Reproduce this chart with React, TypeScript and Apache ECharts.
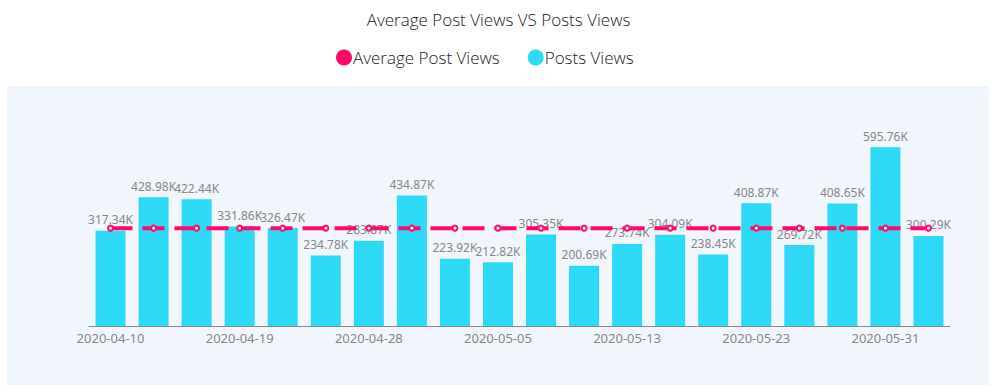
import React, { useEffect, useRef } from "react";
import * as echarts from "echarts";

const categories = [
  "2020-04-10", "2020-04-13", "2020-04-16", "2020-04-19", "2020-04-22",
  "2020-04-25", "2020-04-28", "2020-04-30", "2020-05-02", "2020-05-05",
  "2020-05-08", "2020-05-10", "2020-05-13", "2020-05-16", "2020-05-20",
  "2020-05-23", "2020-05-26", "2020-05-28", "2020-05-31", "2020-06-03",
];

const postsViews = [
  317340, 428980, 422440, 331860, 326470, 234780, 283870, 434870, 223920, 212820,
  305350, 200690, 273740, 304090, 238450, 408870, 269720, 408650, 595760, 300290,
];

const averageViews = postsViews.map(
  () => postsViews.reduce((a, b) => a + b, 0) / postsViews.length
);

const titleText = "Average Post Views VS Posts Views";
const legendNames = ["Average Post Views", "Posts Views"];

export default function App() {
  const ref = useRef<HTMLDivElement>(null);
  useEffect(() => {
    if (!ref.current) return;
    const chart = echarts.init(ref.current, undefined, { renderer: "svg" });
    chart.setOption({
      animation: false,
      title: {
        text: titleText,
        left: "center",
        top: 6,
        textStyle: { fontFamily: "Open Sans", fontSize: 17, fontWeight: 300, color: "#222" },
      },
      legend: {
        top: 44,
        left: 331,
        icon: "circle",
        itemWidth: 16,
        itemHeight: 16,
        itemGap: 28,
        textStyle: { fontFamily: "Open Sans", fontSize: 17, fontWeight: 300, color: "#222", padding: [0, 0, 0, -4] },
        data: legendNames,
      },
      graphic: [
        {
          type: "rect",
          z: -10,
          silent: true,
          shape: { x: 7, y: 86, width: 982, height: 299 },
          style: { fill: "#f1f5fc" },
        },
      ],
      grid: { left: 89, right: 47, top: 146, bottom: 66 },
      xAxis: {
        type: "category",
        data: categories,
        axisLine: { lineStyle: { color: "#888" } },
        axisTick: { alignWithLabel: true, interval: 2, lineStyle: { color: "#888" } },
        axisLabel: { interval: 2, color: "#888", fontSize: 13, fontFamily: "Noto Sans", margin: 5 },
      },
      yAxis: { type: "value", min: 0, max: 600000, show: false, splitLine: { show: false } },
      series: [
        {
          name: legendNames[1],
          type: "bar",
          data: postsViews,
          barWidth: 30,
          itemStyle: { color: "#2dd9f5" },
          label: {
            show: true,
            position: "top",
            color: "#888",
            fontSize: 12,
            fontFamily: "Noto Sans",
            formatter: (p: any) => (p.value / 1000).toFixed(2) + "K",
          },
          z: 2,
        },
        {
          name: legendNames[0],
          type: "line",
          data: averageViews,
          symbol: "emptyCircle",
          symbolSize: 5,
          itemStyle: { color: "#ff0a6c", borderWidth: 1.5 },
          lineStyle: { color: "#ff0a6c", width: 4, type: [22, 10] },
          z: 3,
        },
      ],
    });
    return () => chart.dispose();
  }, []);
  return (
    <div
      ref={ref}
      style={{ position: "absolute", left: 0, top: 0, width: 997, height: 392 }}
    />
  );
}
